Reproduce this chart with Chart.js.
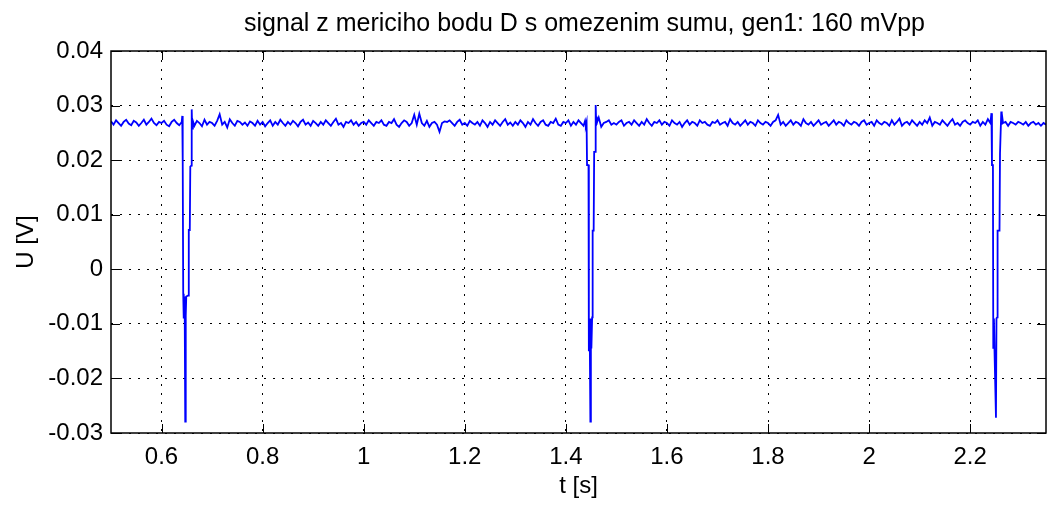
<!DOCTYPE html>
<html>
<head>
<meta charset="utf-8">
<script src="https://cdn.jsdelivr.net/npm/chart.js@4"></script>
<style>
  html, body { margin: 0; padding: 0; background: #fff; }
  #wrap { width: 1047px; height: 505px; }
</style>
</head>
<body>
<div id="wrap"><canvas id="c" width="1047" height="505"></canvas></div>
<script>
// baseline noise, sampled every 5 ms from 0.5 s, in mV
const baseStart = 0.5;
const baseStep = 0.005;
const baseline = [
  27.1, 26.5, 27.3, 26.8, 26.3, 27.0, 27.4, 26.7, 26.4, 27.2, 26.9, 26.3, 26.8, 27.4, 26.5, 27.0, 27.6, 26.8, 26.4, 27.0, // 0.50
  26.8, 27.2, 26.5, 26.2, 27.0, 27.4, 26.8, 26.4, 27.2, 26.8, 27.0, 26.5, 27.8, 26.3, 27.2, 26.8, 26.2, 27.4, 26.5, 27.0, // 0.60
  26.8, 26.3, 27.2, 28.4, 26.5, 27.0, 26.0, 27.5, 26.8, 26.3, 27.2, 27.0, 26.5, 26.9, 26.3, 27.1, 26.8, 26.3, 27.2, 26.5, // 0.70
  27.0, 26.2, 26.8, 27.3, 26.3, 27.0, 26.5, 27.4, 26.8, 26.3, 27.0, 26.5, 27.2, 26.8, 26.2, 27.0, 27.4, 26.5, 26.9, 26.3, // 0.80
  27.2, 26.8, 26.3, 27.0, 26.5, 27.3, 26.8, 26.3, 27.0, 27.6, 26.5, 26.8, 26.1, 27.0, 26.8, 27.3, 26.5, 27.0, 26.3, 26.8, // 0.90
  27.0, 26.5, 27.3, 26.8, 26.3, 27.0, 26.8, 27.3, 26.5, 26.3, 27.0, 26.8, 27.5, 26.5, 26.1, 26.8, 27.3, 27.0, 26.3, 26.8, // 1.00
  28.3, 26.5, 28.5, 26.8, 26.3, 27.2, 26.1, 26.8, 27.0, 26.5, 25.2, 26.8, 27.1, 27.0, 27.3, 26.8, 26.3, 27.0, 27.4, 26.5, // 1.10
  26.8, 26.3, 27.2, 26.8, 26.5, 27.0, 26.3, 27.3, 26.8, 26.1, 27.0, 26.5, 27.3, 26.8, 26.3, 27.0, 27.5, 26.5, 26.9, 26.3, // 1.20
  27.0, 26.5, 27.3, 26.8, 26.1, 27.0, 26.5, 27.5, 26.8, 26.3, 27.0, 27.3, 26.5, 26.3, 27.0, 26.8, 27.6, 26.5, 26.3, 27.0, // 1.30
  26.8, 27.3, 26.3, 27.0, 26.5, 27.3, 26.8, 26.3, 27.0, 26.5, 27.2, 26.8, 26.4, 27.8, 26.1, 26.8, 27.0, 27.3, 26.5, 26.8, // 1.40
  26.5, 27.0, 27.3, 26.3, 26.8, 27.0, 26.5, 27.3, 26.8, 26.3, 27.0, 26.5, 27.5, 26.8, 26.3, 27.0, 26.8, 27.3, 26.5, 27.0, // 1.50
  26.8, 26.3, 27.3, 26.8, 26.5, 27.0, 26.1, 26.8, 27.3, 26.5, 27.0, 26.8, 26.3, 27.3, 26.8, 27.0, 26.5, 26.3, 27.0, 26.8, // 1.60
  27.3, 26.5, 26.8, 27.0, 26.3, 27.5, 26.8, 26.5, 27.0, 26.3, 26.8, 27.3, 26.5, 27.0, 26.8, 26.3, 27.3, 26.8, 26.5, 27.0, // 1.70
  26.8, 26.3, 27.0, 27.3, 28.3, 26.5, 27.0, 26.3, 26.8, 27.3, 26.5, 27.0, 26.8, 26.3, 27.5, 26.8, 26.5, 27.0, 26.3, 26.8, // 1.80
  27.3, 26.5, 26.8, 27.0, 26.3, 26.8, 27.3, 26.5, 27.0, 26.8, 26.3, 27.3, 26.8, 26.5, 27.0, 26.8, 26.3, 27.0, 27.3, 26.5, // 1.90
  26.8, 27.0, 26.3, 27.3, 26.8, 26.5, 27.0, 26.8, 26.3, 27.3, 26.5, 27.0, 27.6, 26.3, 26.8, 27.0, 26.5, 27.3, 26.8, 26.3, // 2.00
  27.0, 26.5, 27.3, 26.8, 27.8, 26.3, 27.0, 26.8, 26.5, 27.3, 26.8, 26.3, 27.0, 27.5, 26.5, 26.8, 26.3, 27.0, 27.3, 26.8, // 2.10
  26.5, 27.0, 26.8, 27.3, 26.3, 27.0, 26.5, 27.5, 26.8, 26.3, 27.0, 27.6, 26.5, 26.8, 27.0, 26.3, 27.0, 26.8, 26.5, 27.0, // 2.20
  26.8, 26.5, 27.0, 26.3, 26.8, 27.0, 26.5, 26.8, 26.3, 26.8, 26.5                                                      // 2.30
];

// the three pulses (time in s, voltage in mV)
const spike1T = [0.6400, 0.6410, 0.6419, 0.6429, 0.6439, 0.6449, 0.6459, 0.6469, 0.6479, 0.6489, 0.6529, 0.6539, 0.6559, 0.6569, 0.6589, 0.6597, 0.6607, 0.6620];
const spike1U = [27.0, 28.1, 19.7, -4.5, -9.0, -5.0, -8.8, -27.9, -8.5, -5.0, -4.8, 7.2, 7.2, 18.8, 19.0, 29.3, 25.8, 27.2];

const spike2T = [1.4380, 1.4395, 1.4410, 1.4419, 1.4448, 1.4455, 1.4465, 1.4475, 1.4485, 1.4495, 1.4505, 1.4520, 1.4530, 1.4550, 1.4560, 1.4580, 1.4590, 1.4600, 1.4610, 1.4620];
const spike2U = [27.2, 26.4, 27.0, 19.1, 19.1, -15.0, -9.0, -15.0, -27.9, -9.0, -14.5, -8.8, 7.1, 7.1, 21.5, 21.5, 30.1, 26.7, 28.0, 27.0];

const spike3T = [2.2400, 2.2420, 2.2431, 2.2450, 2.2457, 2.2470, 2.2480, 2.2510, 2.2520, 2.2535, 2.2542, 2.2580, 2.2590, 2.2605, 2.2615, 2.2625, 2.2640];
const spike3U = [26.8, 28.6, 19.1, 19.1, -14.4, -9.0, -14.4, -27.2, -9.0, -8.8, 7.1, 7.1, 21.2, 21.2, 28.9, 26.5, 27.5];

const xTicks = [0.6, 0.8, 1.0, 1.2, 1.4, 1.6, 1.8, 2.0, 2.2];
const xTickLabels = ['0.6', '0.8', '1', '1.2', '1.4', '1.6', '1.8', '2', '2.2'];
const yTicks = [-0.03, -0.02, -0.01, 0, 0.01, 0.02, 0.03, 0.04];
const yTickLabels = ['-0.03', '-0.02', '-0.01', '0', '0.01', '0.02', '0.03', '0.04'];

const titleText = 'signal z mericiho bodu D s omezenim sumu, gen1: 160 mVpp';
const FONT = "'Liberation Sans', Arial, sans-serif";

// put baseline and pulses together
const spikes = [[spike1T, spike1U], [spike2T, spike2U], [spike3T, spike3U]];
let pts = [];
baseline.forEach((u, i) => {
  const t = baseStart + i * baseStep;
  const inSpike = spikes.some(([ts]) => t >= ts[0] - 0.0005 && t <= ts[ts.length - 1] + 0.0005);
  if (!inSpike) pts.push({ x: t, y: u / 1000 });
});
spikes.forEach(([ts, us]) => ts.forEach((t, i) => pts.push({ x: t, y: us[i] / 1000 })));
pts.sort((a, b) => a.x - b.x);

const matlabAxes = {
  id: 'matlabAxes',
  afterDatasetsDraw(chart) {
    const { ctx, chartArea: a, scales: { x, y } } = chart;
    ctx.save();
    ctx.strokeStyle = '#000';
    ctx.lineWidth = 1;
    ctx.beginPath();
    xTicks.forEach(v => {
      const px = Math.round(x.getPixelForValue(v)) + 0.5;
      ctx.moveTo(px, a.bottom); ctx.lineTo(px, a.bottom - 9);
      ctx.moveTo(px, a.top); ctx.lineTo(px, a.top + 9);
    });
    yTicks.forEach(v => {
      const py = Math.round(y.getPixelForValue(v)) + 0.5;
      ctx.moveTo(a.left, py); ctx.lineTo(a.left + 9, py);
      ctx.moveTo(a.right, py); ctx.lineTo(a.right - 9, py);
    });
    ctx.stroke();
    ctx.lineWidth = 1.5;
    ctx.strokeRect(a.left, a.top, a.right - a.left, a.bottom - a.top);
    ctx.restore();
  },
  afterDraw(chart) {
    const { ctx, chartArea: a } = chart;
    ctx.save();
    ctx.fillStyle = '#000';
    ctx.font = '25px ' + FONT;
    ctx.textAlign = 'center';
    ctx.textBaseline = 'middle';
    ctx.fillText(titleText, (a.left + a.right) / 2 + 6, 24);
    ctx.restore();
  }
};

new Chart(document.getElementById('c'), {
  type: 'line',
  data: {
    datasets: [{
      data: pts,
      borderColor: '#0000ff',
      borderWidth: 1.8,
      pointRadius: 0,
      tension: 0,
      fill: false
    }]
  },
  options: {
    responsive: false,
    animation: false,
    events: [],
    layout: { padding: { top: 51, right: 1, left: 0, bottom: 0 } },
    plugins: { legend: { display: false }, title: { display: false }, tooltip: { enabled: false } },
    scales: {
      x: {
        type: 'linear',
        min: 0.5,
        max: 2.35,
        afterBuildTicks: s => { s.ticks = xTicks.map(v => ({ value: v })); },
        afterFit: s => { s.height = 72; },
        grid: { color: '#000', lineWidth: 1, drawTicks: false },
        border: { display: false, dash: [2, 7] },
        ticks: {
          color: '#000',
          padding: 10,
          maxRotation: 0,
          autoSkip: false,
          font: { family: FONT, size: 24 },
          callback: (v, i) => xTickLabels[i]
        },
        title: { display: true, text: 't [s]', color: '#000', font: { family: FONT, size: 24 }, padding: { top: 0, bottom: 4 } }
      },
      y: {
        min: -0.03,
        max: 0.04,
        afterBuildTicks: s => { s.ticks = yTicks.map(v => ({ value: v })); },
        afterFit: s => { s.width = 111; },
        grid: { color: '#000', lineWidth: 1, drawTicks: false },
        border: { display: false, dash: [2, 7] },
        ticks: {
          color: '#000',
          padding: 8,
          autoSkip: false,
          font: { family: FONT, size: 24 },
          callback: (v, i) => yTickLabels[i]
        },
        title: { display: true, text: 'U [V]', color: '#000', font: { family: FONT, size: 24 }, padding: { top: 12, bottom: 0 } }
      }
    }
  },
  plugins: [matlabAxes]
});
</script>
</body>
</html>
